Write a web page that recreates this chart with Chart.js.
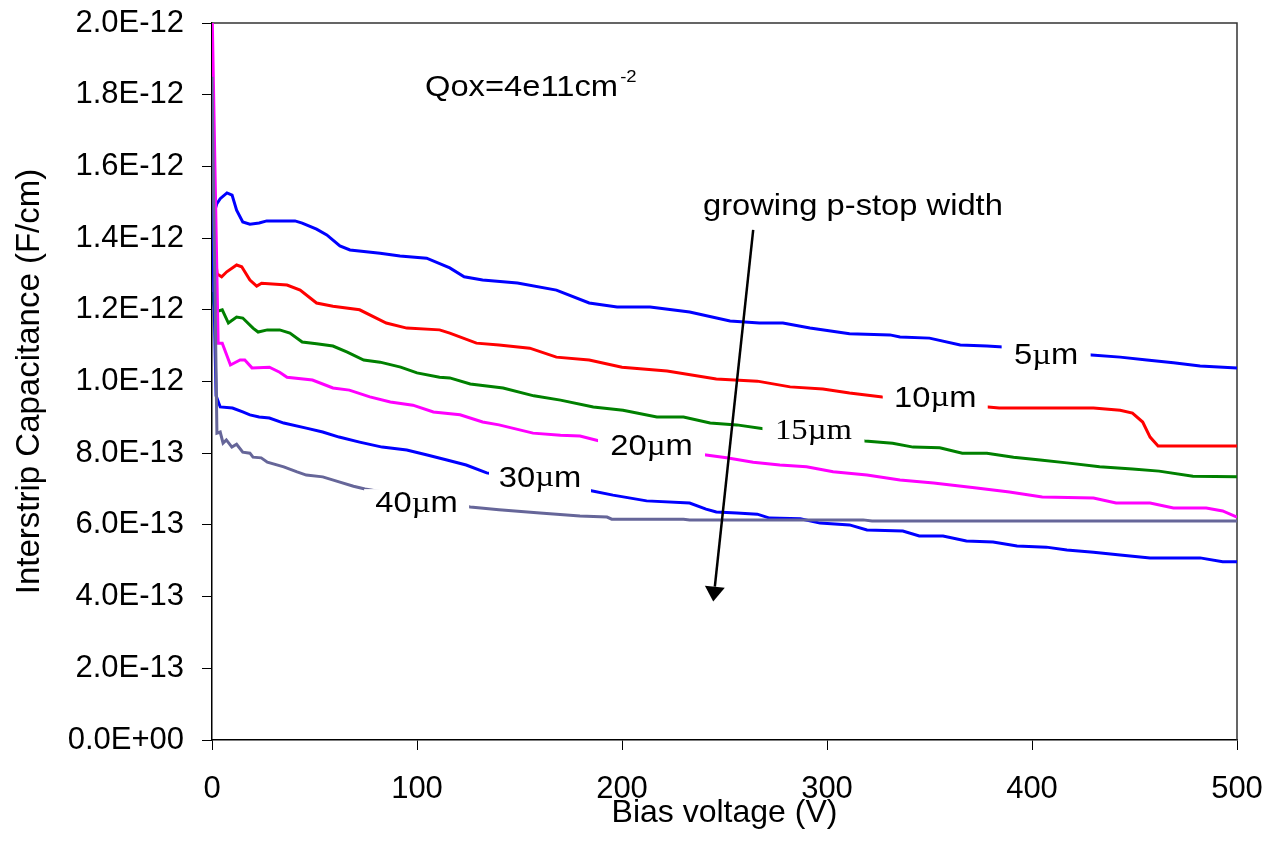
<!DOCTYPE html>
<html><head><meta charset="utf-8">
<script src="https://cdn.jsdelivr.net/npm/chart.js@4/dist/chart.umd.min.js"></script>
<style>html,body{margin:0;padding:0;background:#fff;}</style>
</head><body>
<canvas id="c" width="1265" height="843"></canvas>
<script>
// Values: bias voltage (V) and interstrip capacitance in units of 1e-13 F/cm
const v5  = [0,1,2.3,4,7.3,9.8,12,15,18.5,23,26.7,40.5,44,51,56,62.4,67.3,82,91.7,104.7,116,123,132,149,168,184,197.6,213.7,233,252.7,267,278.5,291.7,311,330.7,335.6,350,365,378,386,429,443,456,469,482,500];
const c5  = [16.0,14.7,14.95,15.1,15.26,15.2,14.78,14.45,14.39,14.42,14.48,14.48,14.42,14.25,14.09,13.78,13.67,13.58,13.5,13.44,13.17,12.92,12.83,12.75,12.55,12.19,12.08,12.08,11.94,11.69,11.63,11.63,11.49,11.33,11.3,11.24,11.21,11.02,10.99,10.96,10.74,10.68,10.6,10.52,10.43,10.38];
const v10 = [0,1,2.5,4.7,7.2,12,14.5,18.5,21.8,24.2,36.6,43,51,59,72,85,95,111,116,129,140,155,168,184,200,222,246,266,282,298,311,327,378.5,384,430,443,449,454,457.6,461.5,500];
const c10 = [14.5,13.8,13.0,12.92,13.06,13.25,13.2,12.83,12.66,12.74,12.69,12.55,12.19,12.1,12.0,11.63,11.49,11.44,11.35,11.07,11.02,10.93,10.68,10.6,10.4,10.29,10.07,10.01,9.85,9.79,9.68,9.57,9.29,9.26,9.26,9.2,9.12,8.87,8.45,8.2,8.2];
const v15 = [0,1.5,5,8,12,15,20,22.5,27,33,38,44,51,59,66,74,82,92,100,111,116,126,142,157,170,186,200.5,217,230,243,256,269,318.5,332,342,355,366,378,391,404,417,433,449,462,478.5,500];
const c15 = [12.5,11.94,12.0,11.63,11.8,11.77,11.49,11.38,11.44,11.44,11.35,11.1,11.05,10.99,10.82,10.6,10.54,10.4,10.24,10.12,10.1,9.93,9.82,9.6,9.48,9.29,9.2,9.01,9.01,8.84,8.79,8.68,8.34,8.28,8.17,8.15,8.0,8.0,7.89,7.81,7.73,7.62,7.56,7.5,7.36,7.34];
const v20 = [0,3,5,9,13.7,16,19.5,28,33,36.6,49,59,67,77,87,98,108,121,132,140,156.6,170,179.5,189,241,251,264,277,290,303,319.5,335.6,352,373,389,405,430,441,457.6,469,485,493,500];
const c20 = [20.5,11.07,11.07,10.46,10.6,10.6,10.38,10.4,10.26,10.12,10.04,9.82,9.76,9.57,9.43,9.34,9.15,9.07,8.87,8.79,8.56,8.5,8.48,8.34,7.95,7.87,7.75,7.67,7.62,7.48,7.39,7.25,7.17,7.03,6.92,6.78,6.75,6.61,6.61,6.47,6.47,6.39,6.22];
const v30 = [0,2,4,10,15,18.5,23,28,35,46,54,62,72,83,95,105,114.6,124,134,185,195.6,212,233,241,246,256,266,272,287,296.6,311,319.5,337,345,356.6,368,381,392.7,407,417,430,443,457.6,482,493,500];
const c30 = [15.0,9.6,9.29,9.26,9.15,9.07,9.01,8.98,8.84,8.7,8.59,8.45,8.31,8.17,8.09,7.95,7.81,7.67,7.45,6.95,6.83,6.67,6.61,6.44,6.36,6.33,6.30,6.19,6.17,6.05,6.0,5.86,5.83,5.69,5.69,5.55,5.52,5.41,5.38,5.30,5.24,5.16,5.08,5.08,4.97,4.97];
const v40 = [0,2.4,4,5.4,7,9.7,12,15,18.5,20,24,27,35,41.5,46,54,62,69,74.6,126,140,160,179.5,192.7,195,230,233,317.6,322,500];
const c40 = [18.5,8.56,8.59,8.28,8.37,8.17,8.25,8.03,8.0,7.89,7.87,7.75,7.62,7.48,7.39,7.34,7.2,7.08,7.0,6.5,6.42,6.33,6.25,6.22,6.16,6.16,6.14,6.14,6.11,6.11];

const seriesNames = ['5µm','10µm','15µm','20µm','30µm','40µm'];
const xTickLabels = ['0','100','200','300','400','500'];
const yTickLabels = ['0.0E+00','2.0E-13','4.0E-13','6.0E-13','8.0E-13','1.0E-12','1.2E-12','1.4E-12','1.6E-12','1.8E-12','2.0E-12'];
const xTitle = 'Bias voltage (V)';
const yTitle = 'Interstrip Capacitance (F/cm)';

// ---- presentation ----
const SANS = '"Liberation Sans", Arial, sans-serif';
const SERIF = '"Liberation Serif", "Times New Roman", serif';
const colors = ['#0000FF','#FF0000','#008000','#FF00FF','#0000FF','#666699'];
const vs = [v5,v10,v15,v20,v30,v40];
const cs = [c5,c10,c15,c20,c30,c40];

// inline series labels (data-space anchors, pixel box widths)
const inlineLabels = [
  {parts:[['5',SANS],['µ',SERIF],['m',SANS]], v:406.9, c:10.71, w:89},
  {parts:[['10',SANS],['µ',SERIF],['m',SANS]], v:352.8, c:9.53, w:105},
  {parts:[['15µm',SERIF]], v:293.4, c:8.61, w:102},
  {parts:[['20',SANS],['µ',SERIF],['m',SANS]], v:214.4, c:8.17, w:107},
  {parts:[['30',SANS],['µ',SERIF],['m',SANS]], v:160.0, c:7.30, w:102},
  {parts:[['40',SANS],['µ',SERIF],['m',SANS]], v:99.8, c:6.58, w:105}
];
const qoxNote = {text:'Qox=4e11cm', sup:'-2', v:103.9, c:17.96};
const growNote = {text:'growing p-stop width', v:239.5, c:14.64};
const arrowNote = {v0:264.0, c0:14.23, v1:244.5, c1:3.86};
const SX = 1.09;

function partsWidth(ctx, parts, size){
  let t=0; parts.forEach(p=>{ctx.font=size+'px '+p[1]; t+=ctx.measureText(p[0]).width;}); return t;
}
function drawParts(ctx, parts, cx, cy, size){
  const total = partsWidth(ctx, parts, size);
  ctx.save(); ctx.translate(cx, cy); ctx.scale(SX,1);
  ctx.textBaseline='middle'; ctx.textAlign='left'; ctx.fillStyle='#000';
  let x=-total/2;
  parts.forEach(p=>{ctx.font=size+'px '+p[1]; ctx.fillText(p[0], x, 0); x+=ctx.measureText(p[0]).width;});
  ctx.restore();
}

const framePlugin = {
  id:'frame',
  beforeDatasetsDraw(chart){
    const {ctx, chartArea:a} = chart;
    ctx.save(); ctx.strokeStyle='#333'; ctx.lineWidth=1.5;
    ctx.beginPath(); ctx.moveTo(a.left, a.top); ctx.lineTo(a.right, a.top); ctx.lineTo(a.right, a.bottom); ctx.stroke();
    ctx.restore();
  }
};
const notesPlugin = {
  id:'notes',
  afterDatasetsDraw(chart){
    const ctx = chart.ctx, xs = chart.scales.x, ys = chart.scales.y;
    ctx.save();
    inlineLabels.forEach(l=>{
      const px = xs.getPixelForValue(l.v), py = ys.getPixelForValue(l.c);
      ctx.fillStyle='#fff'; ctx.fillRect(px-l.w/2, py-15, l.w, 30);
      drawParts(ctx, l.parts, px, py, 30);
    });
    // Qox note
    let px = xs.getPixelForValue(qoxNote.v), py = ys.getPixelForValue(qoxNote.c);
    ctx.save(); ctx.translate(px, py); ctx.scale(SX,1);
    ctx.fillStyle='#000'; ctx.textBaseline='alphabetic'; ctx.textAlign='left';
    ctx.font='30px '+SANS; ctx.fillText(qoxNote.text, 0, 0);
    const w = ctx.measureText(qoxNote.text).width;
    ctx.font='17px '+SANS; ctx.fillText(qoxNote.sup, w+2, -14);
    ctx.restore();
    // growing note
    px = xs.getPixelForValue(growNote.v); py = ys.getPixelForValue(growNote.c);
    ctx.save(); ctx.translate(px, py); ctx.scale(SX,1);
    ctx.fillStyle='#000'; ctx.textBaseline='alphabetic'; ctx.textAlign='left';
    ctx.font='30px '+SANS; ctx.fillText(growNote.text, 0, 0);
    ctx.restore();
    // arrow
    const x0 = xs.getPixelForValue(arrowNote.v0), y0 = ys.getPixelForValue(arrowNote.c0);
    const x1 = xs.getPixelForValue(arrowNote.v1), y1 = ys.getPixelForValue(arrowNote.c1);
    const ang = Math.atan2(y1-y0, x1-x0), L=15, H=10;
    const bx = x1 - L*Math.cos(ang), by = y1 - L*Math.sin(ang);
    ctx.strokeStyle='#000'; ctx.lineWidth=2.5; ctx.lineCap='butt';
    ctx.beginPath(); ctx.moveTo(x0,y0); ctx.lineTo(bx,by); ctx.stroke();
    ctx.fillStyle='#000'; ctx.beginPath();
    ctx.moveTo(x1,y1);
    ctx.lineTo(bx + H*Math.sin(ang), by - H*Math.cos(ang));
    ctx.lineTo(bx - H*Math.sin(ang), by + H*Math.cos(ang));
    ctx.closePath(); ctx.fill();
    ctx.restore();
  }
};

const datasets = seriesNames.map((n,i)=>({
  label:n,
  data: vs[i].map((v,k)=>({x:v, y:cs[i][k]})),
  borderColor: colors[i], backgroundColor: colors[i],
  borderWidth: 3, pointRadius: 0, tension: 0, fill:false,
  order: 6-i
}));

new Chart(document.getElementById('c'), {
  type:'line',
  data:{datasets},
  plugins:[framePlugin, notesPlugin],
  options:{
    responsive:false, animation:false, devicePixelRatio:1,
    layout:{padding:{top:23, right:28, left:0, bottom:0}},
    plugins:{legend:{display:false}, tooltip:{enabled:false}},
    scales:{
      x:{type:'linear', min:0, max:500,
        afterFit(s){ s.height = 103; s.paddingLeft = 0; s.paddingRight = 0; },
        ticks:{stepSize:100, color:'#000', padding:21, maxRotation:0, font:{family:SANS, size:31},
          callback:(v,i)=>xTickLabels[i]},
        grid:{display:true, drawOnChartArea:false, drawTicks:true, tickLength:10, color:'#000', lineWidth:1},
        border:{display:true, color:'#000', width:1.5},
        title:{display:true, text:xTitle, color:'#000', font:{family:SANS, size:32}, padding:{top:0, bottom:11}}
      },
      y:{type:'linear', min:0, max:20,
        afterFit(s){ s.width = 212; s.paddingTop = 0; s.paddingBottom = 0; },
        ticks:{stepSize:2, color:'#000', padding:18, font:{family:SANS, size:31},
          callback:(v,i)=>yTickLabels[i]},
        grid:{display:true, drawOnChartArea:false, drawTicks:true, tickLength:10, color:'#000', lineWidth:1},
        border:{display:true, color:'#000', width:1.5},
        title:{display:true, text:yTitle, color:'#000', font:{family:SANS, size:33}, padding:{top:10, bottom:0}}
      }
    }
  }
});
</script>
</body></html>
